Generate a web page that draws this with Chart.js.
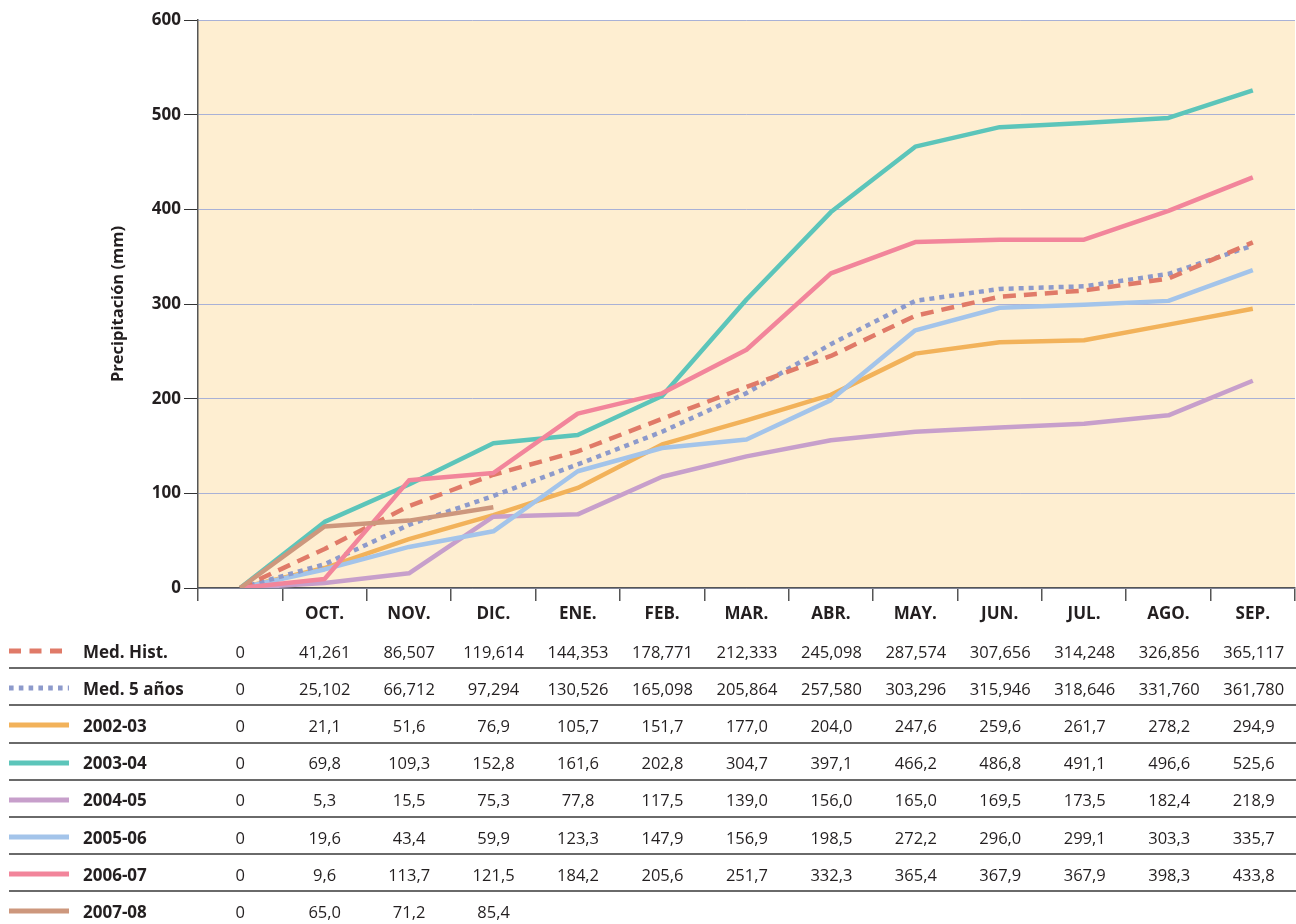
<!DOCTYPE html>
<html><head><meta charset="utf-8">
<script src="https://cdn.jsdelivr.net/npm/chart.js@4.4.1/dist/chart.umd.min.js"></script>
<style>
html,body{margin:0;padding:0;background:#fff;width:1296px;height:924px;overflow:hidden;font-family:"Open Sans",sans-serif;}
#wrap{position:absolute;left:0;top:0;width:1296px;height:640px;}
#tbl{position:absolute;left:9px;top:632px;border-collapse:collapse;table-layout:fixed;}
#tbl td{height:32.2px;padding:3px 0 0 0;text-align:center;font-size:16.5px;color:#231f20;border-bottom:2px solid #6a6a6a;white-space:nowrap;}
#tbl tr:last-child td{border-bottom:none;}
#tbl td.lab{text-align:left;font-weight:700;font-size:17px;padding-left:12px;}
#tbl td.mk{text-align:left;}
#tbl svg{display:block;}
</style></head>
<body>
<div id="wrap"><canvas id="c" width="1296" height="640"></canvas></div>
<table id="tbl"><colgroup id="cg"></colgroup><tbody id="tb"></tbody></table>
<script>
const categories = ["", "OCT.", "NOV.", "DIC.", "ENE.", "FEB.", "MAR.", "ABR.", "MAY.", "JUN.", "JUL.", "AGO.", "SEP."];
const yTicks = [0, 100, 200, 300, 400, 500, 600];
const medHist = [0, 41.261, 86.507, 119.614, 144.353, 178.771, 212.333, 245.098, 287.574, 307.656, 314.248, 326.856, 365.117];
const med5 = [0, 25.102, 66.712, 97.294, 130.526, 165.098, 205.864, 257.580, 303.296, 315.946, 318.646, 331.760, 361.780];
const s0203 = [0, 21.1, 51.6, 76.9, 105.7, 151.7, 177.0, 204.0, 247.6, 259.6, 261.7, 278.2, 294.9];
const s0304 = [0, 69.8, 109.3, 152.8, 161.6, 202.8, 304.7, 397.1, 466.2, 486.8, 491.1, 496.6, 525.6];
const s0405 = [0, 5.3, 15.5, 75.3, 77.8, 117.5, 139.0, 156.0, 165.0, 169.5, 173.5, 182.4, 218.9];
const s0506 = [0, 19.6, 43.4, 59.9, 123.3, 147.9, 156.9, 198.5, 272.2, 296.0, 299.1, 303.3, 335.7];
const s0607 = [0, 9.6, 113.7, 121.5, 184.2, 205.6, 251.7, 332.3, 365.4, 367.9, 367.9, 398.3, 433.8];
const s0708 = [0, 65.0, 71.2, 85.4];

const series = [
  {name:"Med. Hist.", data:medHist, color:"#e07a68", dash:[13,8], dec:3},
  {name:"Med. 5 años", data:med5, color:"#8d9acb", dash:[5,5], dec:3},
  {name:"2002-03", data:s0203, color:"#f2b25a", dash:[], dec:1},
  {name:"2003-04", data:s0304, color:"#5cc5ba", dash:[], dec:1},
  {name:"2004-05", data:s0405, color:"#c79fcb", dash:[], dec:1},
  {name:"2005-06", data:s0506, color:"#a3c4ea", dash:[], dec:1},
  {name:"2006-07", data:s0607, color:"#f2859b", dash:[], dec:1},
  {name:"2007-08", data:s0708, color:"#cd977d", dash:[], dec:1}
];
// drawing order (first = top-most)
const drawOrder = ["2007-08","2006-07","Med. Hist.","Med. 5 años","2005-06","2004-05","2002-03","2003-04"];

const bgPlugin = {
  id:'bg',
  beforeDraw(chart){
    const {ctx, chartArea:a} = chart;
    ctx.save(); ctx.fillStyle = '#feeed1';
    ctx.fillRect(a.left, a.top, a.right - a.left, a.bottom - a.top);
    ctx.restore();
  }
};

const datasets = drawOrder.map(n => {
  const s = series.find(x => x.name === n);
  return {label:s.name, data:s.data, borderColor:s.color, backgroundColor:s.color,
    borderDash:s.dash, borderWidth:4.5, pointRadius:0, tension:0, fill:false,
    borderCapStyle:'butt', borderJoinStyle:'round'};
});

new Chart(document.getElementById('c'), {
  type:'line',
  data:{labels:categories, datasets},
  plugins:[bgPlugin],
  options:{
    responsive:false, animation:false,
    layout:{padding:{top:20, right:1, left:0, bottom:0}},
    plugins:{legend:{display:false}, tooltip:{enabled:false}},
    scales:{
      x:{
        offset:true,
        grid:{offset:true, drawOnChartArea:false, tickLength:13, color:'#555', tickColor:'#555', lineWidth:1.5},
        border:{color:'#555', width:1.5},
        ticks:{font:{family:'"Open Sans"', size:17, weight:'bold'}, color:'#231f20', padding:3, maxRotation:0, autoSkip:false},
        afterFit(s){ s.height = 52; }
      },
      y:{
        min:0, max:600,
        afterBuildTicks(s){ s.ticks = yTicks.map(v => ({value:v})); },
        grid:{color:'#a9b1d6', tickColor:'#333', tickLength:14, lineWidth:1},
        border:{color:'#555', width:1.5},
        ticks:{font:{family:'"Open Sans"', size:17, weight:'bold'}, color:'#231f20', padding:3},
        title:{display:true, text:'Precipitación (mm)', font:{family:'"Open Sans"', size:16.5, weight:'bold'}, color:'#231f20', padding:{top:108, bottom:0}},
        afterFit(s){ s.width = 198; }
      }
    }
  }
});

// table
const colW = (1296 - 198) / categories.length;
const cg = document.getElementById('cg');
[62, 127].concat(categories.map(() => colW)).forEach(w => {
  const c = document.createElement('col'); c.style.width = w + 'px'; cg.appendChild(c);
});
const tb = document.getElementById('tb');
const fmt = (v, d) => v === 0 ? '0' : v.toFixed(d).replace('.', ',');
series.forEach(s => {
  const tr = document.createElement('tr');
  const mk = document.createElement('td'); mk.className = 'mk';
  const dash = s.dash.length ? (s.dash[0] === 5 ? '4.6,5.2' : '12,8.5') : '';
  mk.innerHTML = '<svg width="60" height="8"><line x1="0" y1="4" x2="60" y2="4" stroke="' + s.color + '" stroke-width="5" ' + (dash ? 'stroke-dasharray="' + dash + '"' : '') + '/></svg>';
  tr.appendChild(mk);
  const lb = document.createElement('td'); lb.className = 'lab'; lb.textContent = s.name; tr.appendChild(lb);
  categories.forEach((c, i) => {
    const td = document.createElement('td');
    td.textContent = i < s.data.length ? fmt(s.data[i], s.dec) : '';
    tr.appendChild(td);
  });
  tb.appendChild(tr);
});
</script>
</body></html>
